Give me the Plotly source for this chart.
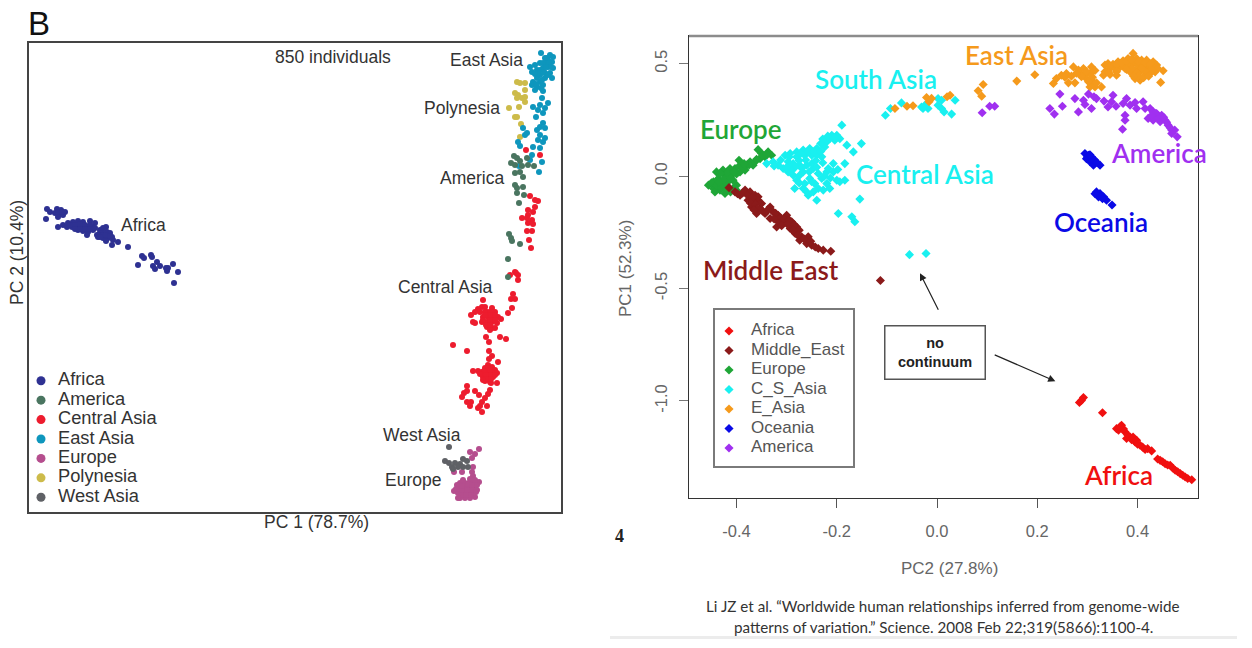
import plotly.graph_objects as go

W, H = 1252, 648

# ---- left panel (no scale printed on the axes, values in arbitrary PC units) ----
left_groups = ["Africa", "America", "Central Asia", "East Asia", "Europe", "Polynesia", "West Asia"]
left_colors = ["#2e3192", "#4a7560", "#ed1c2e", "#0e96bd", "#b54e8e", "#cdbb4a", "#5f6166"]

africa_l = [(47,209),(50,212),(57,209),(61,210),(65,212),(55,213),(60,214),(63,215),(58,217),(46,219),(58,227),
            (63,225),(68,223),(73,222),(78,221),(83,222),(90,221),(95,223),(67,227),(72,227),(77,227),(82,227),
            (87,227),(92,227),(78,230),(83,231),(88,232),(93,230),(87,235),(97,235),(100,233),(106,227),(102,231),
            (107,232),(110,233),(98,237),(103,238),(108,238),(106,241),(113,240),(118,242),(112,245),(128,247),
            (142,256),(144,258),(151,255),(152,257),(138,265),(157,262),(153,266),(160,266),(155,269),(166,268),
            (168,268),(173,264),(167,271),(178,272),(174,283),(70,225),(75,225),(80,224),(85,225),(90,225),(75,229),
            (80,229),(85,229),(90,229),(95,228),(100,230),(103,235),(106,235),(100,237),(112,237),(103,228),(110,236),
            (58,212),(62,212)]
america_l = [(514,156),(517,158),(520,161),(511,163),(515,165),(522,166),(527,158),(528,165),(534,166),(515,173),
             (520,172),(523,177),(523,187),(515,185),(517,188),(517,193),(524,195),(519,203),(509,234),(511,238),
             (512,241),(520,244),(508,259),(508,277)]
central_l = [(526,150),(540,155),(530,196),(538,201),(535,200),(535,207),(528,210),(533,212),(528,215),(522,218),
             (527,218),(532,220),(528,223),(533,224),(527,231),(532,231),(529,240),(531,248),(515,272),(510,275),
             (518,275),(516,273),(518,280),(513,294),(511,299),(515,299),(512,308),(508,313),(483,300),(482,307),
             (485,307),(478,309),(475,312),(471,315),(480,312),(492,308),(487,312),(495,312),(483,317),(488,317),
             (493,317),(498,317),(501,319),(473,322),(475,323),(482,322),(487,322),(492,322),(497,323),(487,327),
             (492,328),(495,328),(490,330),(486,337),(489,342),(500,337),(506,339),(453,345),(467,351),(489,351),
             (492,356),(489,359),(498,362),(488,365),(492,367),(485,368),(495,370),(473,371),(478,371),(482,372),
             (487,373),(492,373),(497,373),(483,377),(488,377),(493,377),(485,381),(490,382),(497,383),(491,383),
             (467,386),(467,391),(475,391),(464,393),(462,397),(479,395),(490,390),(488,394),(485,398),(467,402),
             (471,402),(470,406),(482,402),(480,406),(487,406),(478,408),(482,412),(485,312),(490,312),(483,320),
             (490,320),(495,320),(486,325),(490,325),(485,315),(491,315),(495,315),(488,368),(490,370),(484,371),
             (490,375),(495,375),(486,375),(491,379),(486,379),(483,380),(480,374)]
east_l = [(541,53),(550,55),(553,57),(547,58),(552,62),(545,63),(540,63),(535,65),(530,67),(548,67),(543,68),(537,70),
          (532,72),(553,68),(550,73),(545,73),(540,75),(552,78),(545,78),(537,78),(533,82),(540,82),(532,85),(537,87),
          (543,85),(535,90),(543,91),(542,98),(548,103),(540,105),(533,107),(545,108),(538,110),(543,113),(536,117),
          (543,123),(537,130),(540,127),(545,128),(523,128),(527,133),(525,135),(540,135),(545,138),(543,142),
          (538,140),(518,142),(520,146),(533,147),(540,148),(532,155),(530,160),(542,162),(539,172),(519,166),
          (548,60),(545,58),(543,63),(549,63),(546,67),(551,67),(540,70),(544,72),(548,75),(538,73),(535,74),(542,80),
          (536,84),(541,88)]
europe_l = [(479,449),(470,452),(475,454),(472,458),(473,467),(472,472),(473,476),(462,472),(454,472),(454,491),
            (460,483),(465,483),(470,482),(475,482),(479,482),(460,488),(465,488),(470,487),(475,487),(458,493),
            (463,493),(468,493),(473,492),(460,498),(465,498),(470,498),(475,497),(477,490),(457,485),(462,486),
            (468,484),(472,485),(477,485),(456,489),(462,491),(467,490),(472,490),(476,492),(461,495),(466,495),
            (471,495),(463,480),(470,479),(475,480),(458,498)]
polynesia_l = [(517,82),(520,83),(525,83),(515,93),(518,95),(525,90),(517,98),(522,98),(525,97),(525,102),(519,107),
               (509,108),(515,117),(517,117),(521,124),(520,137)]
west_l = [(449,447),(445,461),(449,463),(452,467),(455,463),(460,464),(463,459),(467,461),(463,467),(468,467),
          (453,469),(458,467)]
left_points = [africa_l, america_l, central_l, east_l, europe_l, polynesia_l, west_l]
# drawn in this order so the overlaps look like the original
left_draw_order = [5, 3, 2, 1, 4, 6, 0]

left_labels = [("850 individuals", 333, 57), ("East Asia", 486, 60), ("Polynesia", 462, 108), ("America", 472, 178),
               ("Africa", 143, 225), ("Central Asia", 445, 287), ("West Asia", 422, 435), ("Europe", 413, 480)]

# ---- right panel ----
right_groups = ["Africa", "Middle_East", "Europe", "C_S_Asia", "E_Asia", "Oceania", "America"]
right_colors = ["#f01010", "#8b1a1a", "#1fa637", "#19f0f0", "#f59a1c", "#0a0ae6", "#a030f0"]

africa_r = [(0.284,-1.007),(0.292,-0.985),(0.330,-1.052),(0.358,-1.123),(0.368,-1.108),(0.375,-1.138),(0.385,-1.160),
            (0.395,-1.182),(0.405,-1.197),(0.415,-1.216),(0.428,-1.222),(0.445,-1.264),(0.455,-1.279),(0.465,-1.286),
            (0.475,-1.308),(0.485,-1.323),(0.495,-1.338),(0.508,-1.350),(0.378,-1.167),(0.391,-1.160),(0.362,-1.130),
            (0.372,-1.125),(0.380,-1.150),(0.388,-1.172),(0.398,-1.175),(0.400,-1.192),(0.410,-1.205),(0.420,-1.212),
            (0.450,-1.270),(0.460,-1.285),(0.470,-1.298),(0.480,-1.315),(0.490,-1.330),(0.500,-1.345),(0.440,-1.258),
            (0.288,-0.998),(0.365,-1.115)]
mideast_r = [(-0.415,-0.051),(-0.403,-0.070),(-0.393,-0.085),(-0.383,-0.062),(-0.373,-0.070),(-0.363,-0.085),
             (-0.357,-0.107),(-0.350,-0.122),(-0.377,-0.107),(-0.370,-0.137),(-0.360,-0.166),(-0.353,-0.144),
             (-0.343,-0.166),(-0.333,-0.137),(-0.327,-0.159),(-0.317,-0.174),(-0.333,-0.188),(-0.320,-0.226),
             (-0.310,-0.203),(-0.300,-0.174),(-0.290,-0.203),(-0.280,-0.226),(-0.293,-0.233),(-0.283,-0.255),
             (-0.270,-0.270),(-0.274,-0.285),(-0.257,-0.270),(-0.260,-0.300),(-0.250,-0.307),(-0.237,-0.322),
             (-0.227,-0.329),(-0.212,-0.334),(-0.367,-0.107),(-0.357,-0.092),(-0.300,-0.203),(-0.317,-0.203),
             (-0.113,-0.464),(-0.398,-0.078),(-0.388,-0.075),(-0.378,-0.085),(-0.368,-0.095),(-0.372,-0.120),
             (-0.362,-0.125),(-0.358,-0.145),(-0.365,-0.150),(-0.348,-0.155),(-0.338,-0.150),(-0.322,-0.165),
             (-0.312,-0.185),(-0.325,-0.190),(-0.305,-0.190),(-0.295,-0.195),(-0.298,-0.215),(-0.285,-0.215),
             (-0.275,-0.240),(-0.288,-0.240),(-0.265,-0.280),(-0.278,-0.262),(-0.252,-0.290),(-0.243,-0.315),
             (-0.310,-0.220)]
europe_r = [(-0.357,0.118),(-0.337,0.108),(-0.330,0.093),(-0.343,0.086),(-0.353,0.078),(-0.363,0.064),(-0.373,0.064),
            (-0.380,0.049),(-0.395,0.071),(-0.393,0.049),(-0.403,0.034),(-0.413,0.034),(-0.427,0.027),(-0.440,0.019),
            (-0.410,0.004),(-0.423,0.004),(-0.436,-0.010),(-0.446,-0.025),(-0.456,-0.040),(-0.446,-0.055),
            (-0.433,-0.062),(-0.423,-0.077),(-0.443,-0.070),(-0.420,-0.040),(-0.407,-0.018),(-0.397,-0.070),
            (-0.430,-0.033),(-0.407,-0.055),(-0.393,0.019),(-0.383,0.027),(-0.350,0.101),(-0.367,0.049),(-0.450,-0.030),
            (-0.440,-0.040),(-0.430,-0.050),(-0.420,-0.060),(-0.415,-0.020),(-0.425,-0.015),(-0.435,-0.025),
            (-0.412,-0.008),(-0.400,0.010),(-0.418,0.018),(-0.405,0.020),(-0.388,0.040),(-0.375,0.050),(-0.360,0.075),
            (-0.348,0.092),(-0.340,0.098),(-0.385,0.056),(-0.400,-0.040),(-0.412,-0.070),(-0.432,0.012)]
csasia_r = [(-0.190,0.227),(-0.151,0.145),(-0.167,0.108),(-0.180,0.138),(-0.184,0.056),(-0.154,-0.102),(-0.197,-0.166),
            (-0.170,-0.181),(-0.164,-0.203),(-0.230,0.086),(-0.220,0.153),(-0.210,0.182),(-0.200,0.182),(-0.194,0.167),
            (-0.214,0.167),(-0.204,0.160),(-0.224,0.130),(-0.240,0.123),(-0.254,0.123),(-0.267,0.116),(-0.280,0.108),
            (-0.293,0.101),(-0.303,0.093),(-0.264,0.093),(-0.250,0.093),(-0.240,0.093),(-0.280,0.086),(-0.340,0.056),
            (-0.327,0.064),(-0.317,0.049),(-0.307,0.034),(-0.297,0.019),(-0.287,0.004),(-0.280,-0.018),(-0.284,-0.055),
            (-0.267,-0.055),(-0.257,-0.085),(-0.240,-0.107),(-0.227,-0.062),(-0.214,-0.055),(-0.220,-0.033),
            (-0.200,-0.018),(-0.184,-0.018),(-0.194,-0.025),(-0.207,0.019),(-0.217,0.034),(-0.207,0.056),(-0.220,0.019),
            (-0.230,-0.010),(-0.237,0.012),(-0.247,0.034),(-0.260,0.049),(-0.274,0.049),(-0.287,0.056),(-0.297,0.064),
            (-0.267,0.019),(-0.254,-0.010),(-0.244,-0.033),(-0.237,-0.055),(-0.264,-0.033),(-0.274,0.004),(-0.293,0.049),
            (-0.250,0.056),(-0.103,0.271),(-0.093,0.301),(-0.071,0.326),(-0.031,0.308),(-0.024,0.316),(-0.018,0.301),
            (0.002,0.345),(0.009,0.338),(0.002,0.316),(0.009,0.301),(0.014,0.286),(0.029,0.276),(0.036,0.338),
            (-0.028,0.301),(-0.055,-0.349),(-0.022,-0.344),(-0.275,0.070),(-0.262,0.072),(-0.270,0.035),(-0.255,0.020),
            (-0.240,0.040),(-0.228,0.060),(-0.242,0.070),(-0.283,0.040),(-0.290,0.025),(-0.300,0.040),(-0.312,0.072),
            (-0.295,0.085),(-0.272,0.100),(-0.258,0.108),(-0.245,0.108),(-0.232,0.110),(-0.232,0.145),(-0.228,0.165),
            (-0.218,0.178),(-0.205,0.172),(-0.250,-0.025),(-0.247,-0.070),(-0.260,-0.070),(-0.225,0.000),(-0.213,-0.008),
            (-0.198,0.030),(-0.325,0.045),(-0.275,-0.030)]
easia_r = [(-0.084,0.301),(-0.060,0.311),(-0.048,0.313),(-0.021,0.350),(-0.011,0.346),(-0.016,0.331),(0.026,0.360),
           (0.020,0.353),(0.092,0.408),(0.082,0.380),(0.089,0.356),(0.159,0.423),(0.195,0.451),(0.232,0.412),
           (0.238,0.434),(0.248,0.449),(0.258,0.457),(0.262,0.415),(0.275,0.415),(0.272,0.486),(0.282,0.472),
           (0.285,0.457),(0.292,0.479),(0.308,0.486),(0.295,0.449),(0.305,0.457),(0.308,0.427),(0.312,0.412),
           (0.305,0.397),(0.315,0.397),(0.328,0.397),(0.298,0.434),(0.288,0.442),(0.358,0.449),(0.332,0.449),
           (0.335,0.494),(0.341,0.501),(0.351,0.498),(0.361,0.509),(0.371,0.513),(0.381,0.523),(0.391,0.546),
           (0.398,0.523),(0.408,0.516),(0.418,0.516),(0.431,0.509),(0.438,0.494),(0.451,0.469),(0.446,0.417),
           (0.435,0.464),(0.425,0.457),(0.415,0.449),(0.405,0.427),(0.395,0.434),(0.385,0.464),(0.375,0.479),
           (0.365,0.486),(0.355,0.479),(0.345,0.479),(0.335,0.464),(0.391,0.501),(0.401,0.494),(0.411,0.486),
           (0.421,0.486),(0.431,0.486),(0.381,0.494),(0.371,0.494),(0.395,0.472),(0.405,0.464),(0.415,0.472),
           (0.345,0.490),(0.358,0.498),(0.368,0.503),(0.378,0.510),(0.388,0.520),(0.402,0.510),(0.415,0.505),
           (0.425,0.500),(0.440,0.480),(0.428,0.472),(0.418,0.460),(0.408,0.478),(0.398,0.460),(0.388,0.480),
           (0.378,0.475),(0.358,0.465),(0.342,0.462),(0.400,0.445),(0.412,0.438),(0.392,0.445),(0.422,0.445),
           (0.345,0.452),(0.298,0.465),(0.315,0.470),(0.310,0.440),(0.302,0.420),(0.318,0.415),(0.278,0.458),
           (0.268,0.445),(0.255,0.440)]
oceania_r = [(0.295,0.101),(0.302,0.093),(0.308,0.086),(0.298,0.078),(0.305,0.064),(0.315,0.071),(0.325,0.049),
             (0.312,0.049),(0.318,-0.070),(0.325,-0.077),(0.332,-0.092),(0.322,-0.092),(0.338,-0.107),(0.349,-0.128),
             (0.300,0.085),(0.310,0.075),(0.318,0.062),(0.305,0.095),(0.320,-0.085),(0.328,-0.088),(0.315,-0.078),
             (0.330,-0.100)]
america_r = [(0.090,0.282),(0.105,0.311),(0.115,0.311),(0.225,0.301),(0.234,0.276),(0.250,0.311),(0.245,0.365),
             (0.275,0.345),(0.282,0.286),(0.292,0.338),(0.295,0.319),(0.302,0.365),(0.308,0.301),(0.313,0.353),
             (0.318,0.345),(0.333,0.334),(0.341,0.308),(0.351,0.360),(0.348,0.331),(0.357,0.311),(0.371,0.323),
             (0.378,0.345),(0.385,0.316),(0.395,0.328),(0.398,0.301),(0.411,0.331),(0.375,0.271),(0.375,0.249),
             (0.370,0.209),(0.415,0.301),(0.425,0.301),(0.431,0.286),(0.438,0.279),(0.448,0.271),(0.421,0.257),
             (0.431,0.249),(0.445,0.242),(0.455,0.249),(0.461,0.227),(0.468,0.205),(0.474,0.205),(0.468,0.190),
             (0.479,0.175),(0.440,0.262),(0.452,0.262),(0.458,0.240),(0.465,0.215),(0.435,0.280),(0.428,0.270)]
right_points = [africa_r, mideast_r, europe_r, csasia_r, easia_r, oceania_r, america_r]

right_labels = [("South Asia", 876, 79, 3), ("East Asia", 1016, 55, 4), ("Europe", 741, 129, 2),
                ("Central Asia", 925, 174, 3), ("America", 1159, 153, 6), ("Oceania", 1101, 222, 5),
                ("Middle East", 771, 270, 1), ("Africa", 1118, 475, 0)]
x_ticks = [-0.4, -0.2, 0.0, 0.2, 0.4]
y_ticks = [-1.0, -0.5, 0.0, 0.5]


def xdom(a, b):
    return [a / W, b / W]


def ydom(top, bottom):
    return [1 - bottom / H, 1 - top / H]


def paper_text(text, x, y, size, color="#333333", family="Liberation Sans", weight="normal", **kw):
    fig.add_annotation(text=text, x=x / W, y=1 - y / H, xref="paper", yref="paper", showarrow=False,
                       xanchor="center", yanchor="middle",
                       font=dict(size=size, color=color, family=family, weight=weight), **kw)


fig = go.Figure()

for i in left_draw_order:
    fig.add_trace(go.Scatter(x=[p[0] for p in left_points[i]], y=[p[1] for p in left_points[i]], mode="markers",
                             marker=dict(size=6, color=left_colors[i]), name=left_groups[i],
                             xaxis="x", yaxis="y", showlegend=False))

for i in [2, 3, 4, 1, 6, 5, 0]:
    fig.add_trace(go.Scatter(x=[p[0] for p in right_points[i]], y=[p[1] for p in right_points[i]], mode="markers",
                             marker=dict(size=7, color=right_colors[i], symbol="diamond"), name=right_groups[i],
                             xaxis="x2", yaxis="y2", showlegend=False))

# legends are small axes of their own, plotly's legend rows can't get as tight as the original
rows = list(range(7))
fig.add_trace(go.Scatter(x=[12] * 7, y=rows, mode="markers", marker=dict(size=9, color=left_colors),
                         xaxis="x3", yaxis="y3", showlegend=False))
fig.add_trace(go.Scatter(x=[29] * 7, y=rows, mode="text", text=left_groups, textposition="middle right",
                         textfont=dict(size=18.3, color="#333333", family="Liberation Sans"),
                         xaxis="x3", yaxis="y3", showlegend=False))
fig.add_trace(go.Scatter(x=[14] * 7, y=rows, mode="markers", marker=dict(size=7, color=right_colors, symbol="diamond"),
                         xaxis="x4", yaxis="y4", showlegend=False))
fig.add_trace(go.Scatter(x=[36] * 7, y=rows, mode="text", text=right_groups, textposition="middle right",
                         textfont=dict(size=17, color="#555555", family="Liberation Sans"),
                         xaxis="x4", yaxis="y4", showlegend=False))

hidden = dict(showticklabels=False, ticks="", showgrid=False, zeroline=False)
frame_l = dict(showline=True, mirror=True, linecolor="#444444", linewidth=2)
frame_r = dict(showline=True, mirror=True, linecolor="#333333", linewidth=1.3)
frame_k = dict(showline=True, mirror=True, linecolor="#7a7a7a", linewidth=1.6)
tick_font = dict(size=16.5, color="#666666", family="Liberation Sans")

fig.update_layout(
    width=W, height=H, autosize=False, margin=dict(l=0, r=0, t=0, b=0),
    paper_bgcolor="white", plot_bgcolor="white",
    xaxis=dict(domain=xdom(29, 561), range=[29, 561], anchor="y", **hidden, **frame_l),
    yaxis=dict(domain=ydom(43, 512), range=[512, 43], anchor="x", **hidden, **frame_l),
    xaxis2=dict(domain=xdom(689, 1198), range=[-0.4948, 0.5205], anchor="y2", tickvals=x_ticks,
                ticktext=["-0.4", "-0.2", "0.0", "0.2", "0.4"], ticks="outside", ticklen=9, tickcolor="#555555",
                tickfont=tick_font, ticklabelstandoff=9, showgrid=False, zeroline=False, **frame_r),
    yaxis2=dict(domain=ydom(36, 498), range=[-1.4315, 0.6235], anchor="x2", tickvals=y_ticks,
                ticktext=["-1.0", "-0.5", "0.0", "0.5"], ticks="outside", ticklen=9, tickcolor="#777777", tickangle=-90,
                tickfont=tick_font, ticklabelstandoff=5, showgrid=False, zeroline=False, **frame_r),
    xaxis3=dict(domain=xdom(29, 229), range=[0, 200], anchor="y3", visible=False),
    yaxis3=dict(domain=ydom(371, 507), range=[6.5, -0.5], anchor="x3", visible=False),
    xaxis4=dict(domain=xdom(715, 853), range=[0, 138], anchor="y4", **hidden, **frame_k),
    yaxis4=dict(domain=ydom(310, 466), range=[6.92, -1.08], anchor="x4", **hidden, **frame_k),
)

for text, x, y in left_labels:
    paper_text(text, x, y, 17.5)
paper_text("B", 39, 24, 33, color="#111111")
paper_text("PC 1 (78.7%)", 316, 522, 17.5)
paper_text("PC 2 (10.4%)", 17, 253, 17.5, textangle=-90)

for text, x, y, c in right_labels:
    paper_text(text, x, y, 26, color=right_colors[c], family="Lato", weight=600)
paper_text("PC2 (27.8%)", 949, 568, 17, color="#666666")
paper_text("PC1 (52.3%)", 625, 269, 17, color="#666666", textangle=-90)
paper_text("<b>4</b>", 619, 536, 18, color="#222222", family="Liberation Serif")
paper_text("Li JZ et al. “Worldwide human relationships inferred from genome-wide", 943, 606, 15.2, family="Lato")
paper_text("patterns of variation.” Science. 2008 Feb 22;319(5866):1100-4.", 943, 627, 15.2, family="Lato")
paper_text("<b>no</b><br><b>continuum</b>", 934.5, 352, 14.5, color="#222222", bgcolor="white",
           bordercolor="#555555", borderwidth=1.5, width=97, height=50)

fig.add_annotation(x=-0.034, y=-0.432, ax=0.004, ay=-0.601, xref="x2", yref="y2", axref="x2", ayref="y2",
                   text="", showarrow=True, arrowhead=2, arrowsize=1.2, arrowwidth=1.2, arrowcolor="#222222")
fig.add_annotation(x=0.236, y=-0.912, ax=0.112, ay=-0.792, xref="x2", yref="y2", axref="x2", ayref="y2",
                   text="", showarrow=True, arrowhead=2, arrowsize=1.2, arrowwidth=1.2, arrowcolor="#222222")
fig.add_shape(type="rect", xref="paper", yref="paper", x0=610 / W, x1=1237 / W, y0=1 - 639 / H, y1=1 - 636 / H,
              fillcolor="#ececec", line_width=0)
# the top of the right frame is a lighter, thicker grey in the original
fig.add_shape(type="line", xref="paper", yref="paper", x0=689 / W, x1=1198 / W, y0=1 - 36 / H, y1=1 - 36 / H,
              line=dict(color="#8c8c8c", width=2.5))

fig.write_html("out.html", config={"displayModeBar": False}, post_script="document.body.style.margin='0';")
